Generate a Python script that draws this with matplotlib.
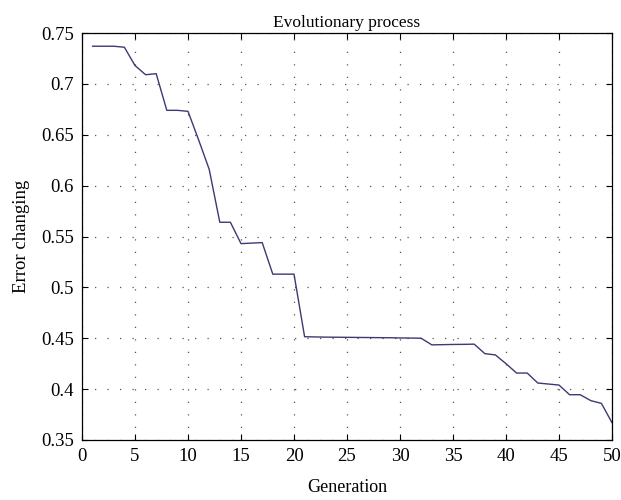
import matplotlib
matplotlib.use("Agg")
import matplotlib.pyplot as plt

# Error per generation
generation = list(range(1, 51))
error = [
    0.737, 0.737, 0.737, 0.736, 0.718, 0.709, 0.710, 0.674, 0.674, 0.673,
    0.645, 0.616, 0.564, 0.564, 0.543, 0.5435, 0.544, 0.513, 0.513, 0.513,
    0.4515, 0.4513, 0.4511, 0.4510, 0.4509, 0.4508, 0.4507, 0.4506, 0.4505, 0.4503,
    0.4502, 0.4500, 0.4435, 0.4437, 0.4439, 0.4440, 0.4442, 0.4349, 0.4336, 0.425,
    0.4158, 0.4158, 0.406, 0.405, 0.404, 0.3945, 0.3945, 0.3887, 0.386, 0.367,
]
xticks = list(range(0, 51, 5))
yticks = [0.35, 0.4, 0.45, 0.5, 0.55, 0.6, 0.65, 0.7, 0.75]
ytick_labels = ["0.35", "0.4", "0.45", "0.5", "0.55", "0.6", "0.65", "0.7", "0.75"]

plt.rcParams["font.family"] = ["Liberation Serif", "DejaVu Serif"]
plt.rcParams["font.size"] = 12

fig = plt.figure(figsize=(6.21, 5.0), dpi=100)
ax = fig.add_axes([82 / 621, 60 / 500, 530 / 621, 407 / 500])

ax.plot(generation, error, color="#3b3a72", linewidth=1.0)

ax.set_xlim(0, 50)
ax.set_ylim(0.35, 0.75)
ax.set_xticks(xticks)
ax.set_yticks(yticks)
ax.set_yticklabels(ytick_labels)
ax.tick_params(direction="in", top=True, right=True, length=4, width=0.8,
               labelsize=13.5, pad=6)
ax.grid(True, linestyle=(0, (1, 9)), color="#555555", linewidth=0.9)
for sp in ax.spines.values():
    sp.set_linewidth(0.9)

ax.set_title("Evolutionary process", fontsize=12.5, pad=4)
ax.set_xlabel("Generation", fontsize=13, labelpad=10)
ax.set_ylabel("Error changing", fontsize=13.5, labelpad=8)

fig.savefig("out.png", dpi=100)
plt.close(fig)
